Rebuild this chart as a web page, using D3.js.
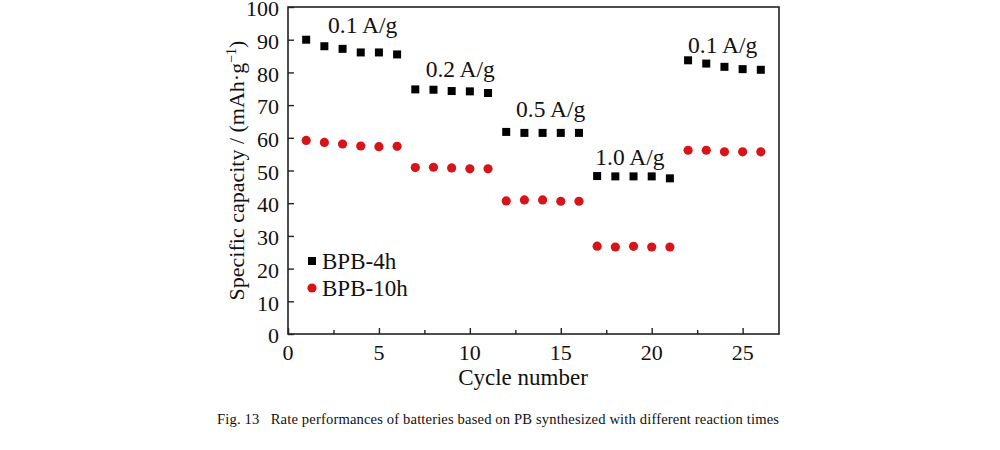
<!DOCTYPE html>
<html><head><meta charset="utf-8">
<script src="https://cdn.jsdelivr.net/npm/d3@7"></script>
<style>body{margin:0;background:#fff}svg{display:block}text{font-family:"Liberation Serif","Times New Roman",serif}</style>
</head><body><svg id="c" width="1000" height="450"></svg>
<script>
const cycles = d3.range(1, 27);
const bpb4h = [90.0, 88.0, 87.2, 86.1, 86.1, 85.5, 74.8, 74.7, 74.3, 74.2, 73.7, 61.8, 61.5, 61.5, 61.5, 61.5, 48.3, 48.2, 48.2, 48.2, 47.6, 83.7, 82.7, 81.7, 81.0, 80.8];
const bpb10h = [59.2, 58.6, 58.1, 57.5, 57.3, 57.4, 50.9, 51.0, 50.8, 50.5, 50.5, 40.7, 41.0, 41.0, 40.6, 40.6, 26.85, 26.6, 26.8, 26.6, 26.6, 56.2, 56.2, 55.7, 55.7, 55.7];
const rateLabels = ["0.1 A/g", "0.2 A/g", "0.5 A/g", "1.0 A/g", "0.1 A/g"];
const rateLabelPos = [[2.2, 92.0], [7.57, 78.5], [12.54, 66.3], [16.9, 51.6], [22.0, 86.0]];
const xTicks = [0, 5, 10, 15, 20, 25];
const yTicks = d3.range(0, 101, 10);
const seriesNames = ["BPB-4h", "BPB-10h"];

const svg = d3.select("#c");
const L = 288, R = 779, T = 7, B = 334;
const x = d3.scaleLinear().domain([0, 27]).range([L, R]);
const y = d3.scaleLinear().domain([0, 100]).range([B, T]);

// frame
svg.append("rect").attr("x", L).attr("y", T).attr("width", R - L).attr("height", B - T)
  .attr("fill", "none").attr("stroke", "#222").attr("stroke-width", 1.6);

// x axis (inward ticks)
const gx = svg.append("g").attr("transform", `translate(0,${B})`)
  .call(d3.axisTop(x).tickValues(xTicks).tickSize(6).tickFormat(""));
gx.select(".domain").remove();
gx.selectAll("line").attr("stroke", "#222").attr("stroke-width", 1.4);
const gxm = svg.append("g").attr("transform", `translate(0,${B})`)
  .call(d3.axisTop(x).tickValues(xTicks.map(v => v + 2.5).filter(v => v < 27)).tickSize(4).tickFormat(""));
gxm.select(".domain").remove();
gxm.selectAll("line").attr("stroke", "#222").attr("stroke-width", 1.4);
svg.append("g").selectAll("text").data(xTicks).join("text")
  .attr("x", d => x(d)).attr("y", B + 26).attr("text-anchor", "middle")
  .attr("font-size", 22).attr("fill", "#111").text(d => d);

// y axis (inward ticks)
const gy = svg.append("g").attr("transform", `translate(${L},0)`)
  .call(d3.axisRight(y).tickValues(yTicks).tickSize(6).tickFormat(""));
gy.select(".domain").remove();
gy.selectAll("line").attr("stroke", "#222").attr("stroke-width", 1.4);
svg.append("g").selectAll("text").data(yTicks).join("text")
  .attr("x", L - 9).attr("y", d => y(d)).attr("dy", "0.42em").attr("text-anchor", "end")
  .attr("font-size", 22).attr("fill", "#111").text(d => d);

// titles
svg.append("text").attr("x", 523).attr("y", 385).attr("text-anchor", "middle")
  .attr("font-size", 23).attr("fill", "#111").text("Cycle number");
const yt = svg.append("text").attr("transform", `translate(244,${(T + B) / 2}) rotate(-90)`)
  .attr("text-anchor", "middle").attr("font-size", 22).attr("fill", "#111");
yt.append("tspan").text("Specific capacity / (mAh·g");
yt.append("tspan").attr("font-size", 14).attr("dy", -8).text("−1");
yt.append("tspan").attr("dy", 8).text(")");

// data
const sq = 8;
svg.append("g").selectAll("rect").data(cycles).join("rect")
  .attr("x", (d) => x(d) - sq / 2).attr("y", (d, i) => y(bpb4h[i]) - sq / 2)
  .attr("width", sq).attr("height", sq).attr("fill", "#000");
svg.append("g").selectAll("circle").data(cycles).join("circle")
  .attr("cx", d => x(d)).attr("cy", (d, i) => y(bpb10h[i])).attr("r", 4.6).attr("fill", "#d7141a");

// rate labels
svg.append("g").selectAll("text").data(rateLabels).join("text")
  .attr("x", (d, i) => x(rateLabelPos[i][0])).attr("y", (d, i) => y(rateLabelPos[i][1]))
  .attr("font-size", 23.5).attr("fill", "#111").text(d => d);

// legend
svg.append("rect").attr("x", 312 - 4).attr("y", 261 - 4).attr("width", 8).attr("height", 8).attr("fill", "#000");
svg.append("circle").attr("cx", 312).attr("cy", 288).attr("r", 4.6).attr("fill", "#d7141a");
svg.append("g").selectAll("text").data(seriesNames).join("text")
  .attr("x", 322).attr("y", (d, i) => [261, 288][i]).attr("dy", "0.35em")
  .attr("font-size", 23).attr("fill", "#111").text(d => d);

// caption
svg.append("text").attr("x", 217).attr("y", 424).attr("font-size", 14.6).attr("fill", "#111")
  .attr("textLength", 562).attr("lengthAdjust", "spacing")
  .attr("xml:space", "preserve").style("white-space", "pre")
  .text("Fig. 13   Rate performances of batteries based on PB synthesized with different reaction times");
</script></body></html>
